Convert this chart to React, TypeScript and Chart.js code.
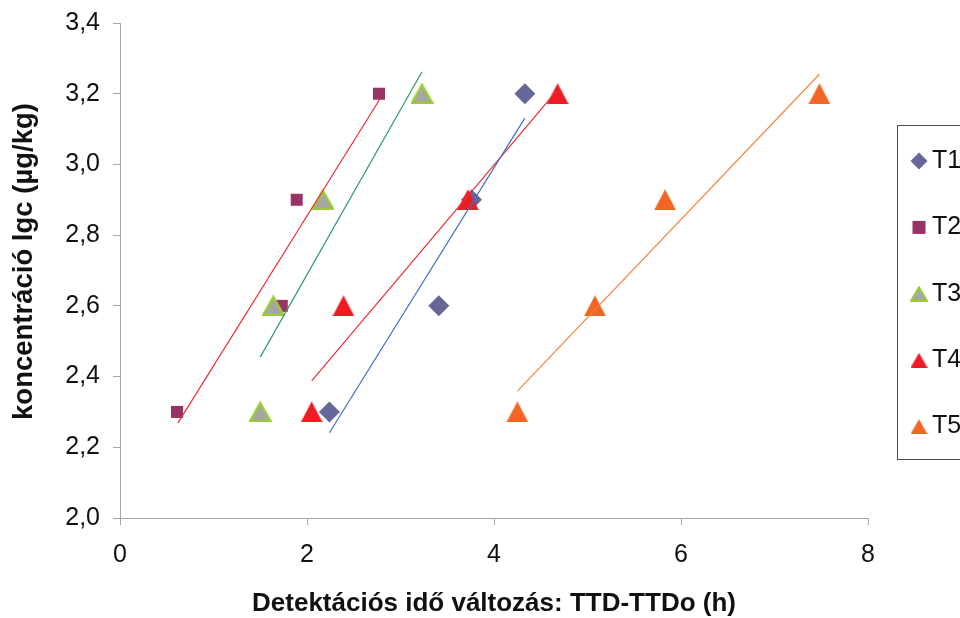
import React, { useEffect, useRef } from 'react';
import { Chart, registerables } from 'chart.js';

Chart.register(...registerables);

// ---- data ----
const seriesNames = ['T1', 'T2', 'T3', 'T4', 'T5'];
const concentration = [2.3, 2.6, 2.9, 3.2];
const t1Time = [2.24, 3.41, 3.76, 4.33];
const t2Time = [0.61, 1.73, 1.89, 2.77];
const t3Time = [1.5, 1.64, 2.17, 3.23];
const t4Time = [2.05, 2.39, 3.72, 4.68];
const t5Time = [4.25, 5.08, 5.83, 7.48];

// trend line end points (x, y)
const t1TrendX = [2.24, 4.33];
const t1TrendY = [2.241, 3.131];
const t2TrendX = [0.62, 2.78];
const t2TrendY = [2.269, 3.185];
const t3TrendX = [1.5, 3.23];
const t3TrendY = [2.455, 3.262];
const t4TrendX = [2.05, 4.67];
const t4TrendY = [2.388, 3.208];
const t5TrendX = [4.25, 7.48];
const t5TrendY = [2.359, 3.255];

const xMin = 0;
const xMax = 8;
const xStep = 2;
const yMin = 2.0;
const yMax = 3.4;
const yStep = 0.2;

const xAxisTitle = 'Detektációs idő változás: TTD-TTDo (h)';
const yAxisTitle = 'koncentráció lgc (µg/kg)';

const FONT = "'Liberation Sans', Arial, sans-serif";
const AXIS_COLOR = '#A6A6A6';

function makeTriangle(w: number, h: number, fill: string, stroke?: string, strokeW = 0) {
  const c = document.createElement('canvas');
  c.width = w;
  c.height = h;
  const g = c.getContext('2d')!;
  const i = strokeW / 2;
  g.beginPath();
  g.moveTo(w / 2, i + (strokeW ? 0.5 : 0));
  g.lineTo(w - i, h - i);
  g.lineTo(i, h - i);
  g.closePath();
  g.fillStyle = fill;
  g.fill();
  if (stroke && strokeW > 0) {
    g.strokeStyle = stroke;
    g.lineWidth = strokeW;
    g.lineJoin = 'miter';
    g.stroke();
  }
  return c;
}

const toPts = (xs: number[], ys: number[]) => xs.map((x, i) => ({ x, y: ys[i] }));

export default function App() {
  const ref = useRef<HTMLCanvasElement | null>(null);

  useEffect(() => {
    if (!ref.current) return;

    const tri3 = makeTriangle(23, 21, '#A6A6A8', '#9ACD32', 2.5);
    const tri4 = makeTriangle(22, 21, '#ED1C24');
    const tri5 = makeTriangle(22, 21, '#F26522');
    const legTri3 = makeTriangle(18, 16, '#A6A6A8', '#9ACD32', 2);
    const legTri4 = makeTriangle(17, 15, '#ED1C24');
    const legTri5 = makeTriangle(17, 15, '#F26522');

    const legendPlugin = {
      id: 'boxLegend',
      afterDraw(chart: any) {
        const ctx = chart.ctx as CanvasRenderingContext2D;
        ctx.save();
        // y axis title
        ctx.save();
        ctx.translate(24, 261.5);
        ctx.rotate(-Math.PI / 2);
        ctx.fillStyle = '#111';
        ctx.font = `bold 27.5px ${FONT}`;
        ctx.textAlign = 'center';
        ctx.textBaseline = 'middle';
        ctx.fillText(yAxisTitle, 0, 0);
        ctx.restore();

        ctx.strokeStyle = '#4D4D4D';
        ctx.lineWidth = 1;
        ctx.strokeRect(897.5, 125.5, 120, 334);
        const mx = 919;
        seriesNames.forEach((name, i) => {
          const y = 161 + i * 66.4;
          if (i === 0) {
            ctx.fillStyle = '#666699';
            ctx.beginPath();
            ctx.moveTo(mx, y - 8.5);
            ctx.lineTo(mx + 8.5, y);
            ctx.lineTo(mx, y + 8.5);
            ctx.lineTo(mx - 8.5, y);
            ctx.closePath();
            ctx.fill();
          } else if (i === 1) {
            ctx.fillStyle = '#993366';
            ctx.fillRect(mx - 6.5, y - 6.5, 13, 13);
          } else {
            const img = i === 2 ? legTri3 : i === 3 ? legTri4 : legTri5;
            ctx.drawImage(img, mx - img.width / 2, y - img.height / 2);
          }
          ctx.fillStyle = '#111';
          ctx.font = `25px ${FONT}`;
          ctx.textAlign = 'left';
          ctx.textBaseline = 'middle';
          ctx.fillText(name, 932, y);
        });
        ctx.restore();
      },
    };

    const lineDs = (label: string, xs: number[], ys: number[], color: string) => ({
      label,
      data: toPts(xs, ys),
      showLine: true,
      borderColor: color,
      backgroundColor: color,
      borderWidth: 1.2,
      pointRadius: 0,
      order: 0,
    });

    const chart = new Chart(ref.current, {
      type: 'scatter',
      data: {
        datasets: [
          lineDs('T1 trend', t1TrendX, t1TrendY, '#3F6FC6'),
          lineDs('T2 trend', t2TrendX, t2TrendY, '#EE2D32'),
          lineDs('T3 trend', t3TrendX, t3TrendY, '#2E9A62'),
          lineDs('T4 trend', t4TrendX, t4TrendY, '#EE2D32'),
          lineDs('T5 trend', t5TrendX, t5TrendY, '#F5843F'),
          {
            label: seriesNames[0],
            data: toPts(t1Time, concentration),
            pointStyle: 'rectRot',
            pointRadius: 10.5,
            pointBorderWidth: 0,
            backgroundColor: '#666699',
            borderColor: '#666699',
            order: 10,
          },
          {
            label: seriesNames[1],
            data: toPts(t2Time, concentration),
            pointStyle: 'rect',
            pointRadius: 8.5,
            pointBorderWidth: 0,
            backgroundColor: '#993366',
            borderColor: '#993366',
            order: 9,
          },
          {
            label: seriesNames[2],
            data: toPts(t3Time, concentration),
            pointStyle: tri3,
            pointRadius: 11,
            backgroundColor: '#A6A6A8',
            borderColor: '#9ACD32',
            order: 8,
          },
          {
            label: seriesNames[3],
            data: toPts(t4Time, concentration),
            pointStyle: tri4,
            pointRadius: 11,
            backgroundColor: '#ED1C24',
            borderColor: '#ED1C24',
            order: 7,
          },
          {
            label: seriesNames[4],
            data: toPts(t5Time, concentration),
            pointStyle: tri5,
            pointRadius: 11,
            backgroundColor: '#F26522',
            borderColor: '#F26522',
            order: 6,
          },
        ] as any,
      },
      options: {
        responsive: false,
        animation: false,
        events: [],
        layout: { padding: { top: 23, right: 92, bottom: 0, left: 0 } },
        plugins: {
          legend: { display: false },
          tooltip: { enabled: false },
        },
        scales: {
          x: {
            type: 'linear',
            min: xMin,
            max: xMax,
            ticks: {
              stepSize: xStep,
              color: '#111',
              padding: 15,
              font: { family: FONT, size: 25 },
              callback: (v: any) => String(v),
            },
            grid: { drawOnChartArea: false, drawTicks: true, tickLength: 7, color: AXIS_COLOR },
            border: { display: true, color: AXIS_COLOR, width: 1 },
            title: {
              display: true,
              text: xAxisTitle,
              color: '#111',
              font: { family: FONT, size: 26, weight: 'bold', lineHeight: 1 },
              padding: { top: 0, bottom: 1 },
            },
            afterFit: (s: any) => {
              s.height = 100;
              s.paddingLeft = 0;
              s.paddingRight = 0;
            },
          },
          y: {
            type: 'linear',
            min: yMin,
            max: yMax,
            ticks: {
              stepSize: yStep,
              color: '#111',
              padding: 13,
              font: { family: FONT, size: 25 },
              callback: (v: any) => Number(v).toFixed(1).replace('.', ','),
            },
            grid: { drawOnChartArea: false, drawTicks: true, tickLength: 7, color: AXIS_COLOR },
            border: { display: true, color: AXIS_COLOR, width: 1 },
            title: { display: false },
            afterFit: (s: any) => {
              s.width = 120;
              s.paddingTop = 0;
              s.paddingBottom = 0;
            },
          },
        },
      } as any,
      plugins: [legendPlugin],
    });

    return () => chart.destroy();
  }, []);

  return (
    <div style={{ position: 'fixed', left: 0, top: 0, width: 960, height: 618, background: '#fff' }}>
      <canvas ref={ref} width={960} height={618} style={{ display: 'block', width: 960, height: 618 }} />
    </div>
  );
}
